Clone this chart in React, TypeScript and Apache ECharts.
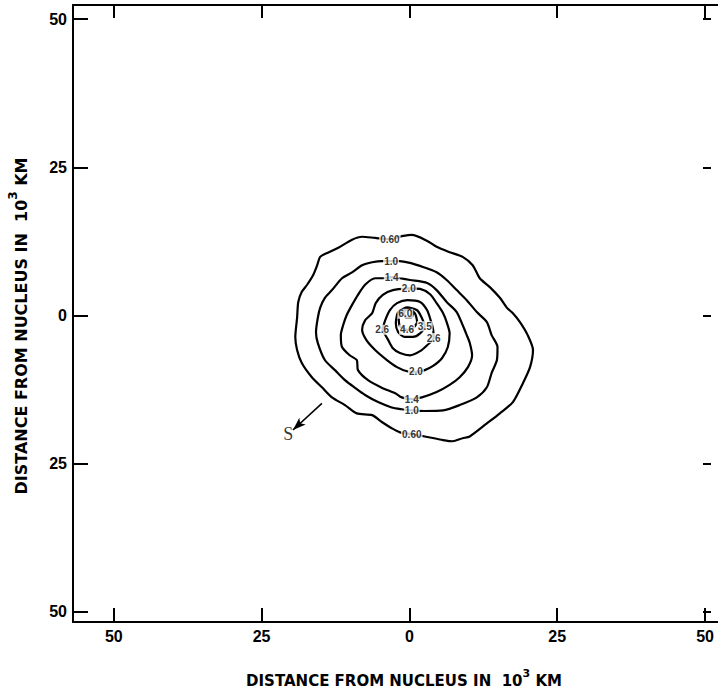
import React, { useEffect, useRef } from "react";
import * as echarts from "echarts";

// Tick positions (10^3 km from the nucleus); labels show absolute distance.
const xTicks = [-50, -25, 0, 25, 50];
const yTicks = [-50, -25, 0, 25, 50];

// Isophote levels and their printed labels.
const contourLevels = [0.6, 1.0, 1.4, 2.0, 2.6, 3.5, 4.6, 6.0];
const levelLabels = ["0.60", "1.0", "1.4", "2.0", "2.6", "3.5", "4.6", "6.0"];

// Traced isophotes, [x, y] in 10^3 km.
const c060 = [
  [-1.3, 13.4], [0.4, 13.6], [3.0, 12.6], [4.6, 11.6], [6.8, 10.7], [9.0, 9.9], [10.7, 8.5],
  [11.9, 6.3], [13.6, 4.8], [15.3, 3.0], [16.5, 1.3], [17.5, 0.4], [18.7, -1.1], [20.0, -3.3],
  [20.9, -5.8], [20.4, -8.7], [19.2, -11.4], [17.5, -14.6], [15.3, -16.5], [13.1, -18.2],
  [10.2, -20.4], [9.0, -20.7], [7.3, -21.2], [5.7, -21.0], [2.6, -20.4], [0.4, -20.0],
  [-1.6, -19.7], [-3.0, -19.0], [-4.6, -18.0], [-6.3, -16.8], [-8.9, -16.5], [-10.9, -15.1],
  [-13.1, -13.8], [-14.8, -12.1], [-16.5, -10.4], [-18.2, -8.0], [-19.0, -5.8], [-19.3, -3.6],
  [-19.0, -0.4], [-18.8, 2.3], [-18.2, 4.0], [-17.3, 5.2], [-16.3, 6.8], [-15.6, 8.5],
  [-15.1, 9.9], [-13.8, 10.6], [-12.1, 11.4], [-9.7, 12.8], [-8.0, 13.3], [-5.8, 13.1], [-3.3, 12.9],
];
const c100 = [
  [-1.6, 9.2], [0.1, 8.9], [2.3, 8.2], [4.6, 7.3], [6.3, 6.0], [8.0, 4.3], [9.7, 2.6], [11.4, 0.6],
  [13.1, -1.1], [13.9, -3.3], [14.9, -5.3], [14.8, -7.5], [13.9, -9.7], [13.1, -12.1], [11.4, -13.8],
  [8.5, -15.1], [5.7, -16.0], [2.6, -16.1], [0.4, -16.0], [-1.3, -15.8], [-3.0, -15.5], [-5.3, -14.6],
  [-7.5, -13.4], [-9.2, -12.2], [-10.9, -10.9], [-12.6, -9.2], [-14.3, -7.5], [-15.5, -4.6],
  [-15.8, -2.8], [-15.5, -0.4], [-15.1, 1.3], [-14.3, 3.0], [-13.1, 4.3], [-11.4, 6.3], [-9.7, 7.3],
  [-8.0, 8.5], [-6.3, 9.0], [-4.6, 9.2], [-3.1, 9.2],
];
const c140 = [
  [-1.6, 6.3], [0.1, 6.0], [3.0, 5.5], [4.6, 4.3], [6.3, 2.3], [8.0, 0.6], [9.0, -1.6], [9.7, -3.3],
  [10.2, -4.6], [10.6, -6.7], [9.9, -8.7], [8.5, -10.4], [6.8, -11.7], [4.6, -12.9], [2.1, -13.8],
  [0.4, -14.1], [-1.3, -13.8], [-2.4, -13.1], [-4.6, -12.2], [-7.0, -10.9], [-8.7, -9.2], [-8.9, -7.5],
  [-10.1, -6.7], [-11.4, -5.3], [-11.6, -3.3], [-11.2, -1.6], [-10.6, 0.1], [-9.7, 1.8], [-8.7, 3.5],
  [-7.5, 5.2], [-5.8, 6.3], [-4.5, 6.3], [-3.0, 6.5],
];
const c200 = [
  [-0.1, 4.6], [1.8, 4.5], [3.5, 3.6], [4.6, 2.1], [5.7, 0.4], [6.3, -1.1], [6.8, -3.0], [6.5, -5.3],
  [5.5, -7.2], [4.0, -8.5], [2.6, -9.2], [1.1, -9.5], [-0.4, -9.4], [-2.1, -8.7], [-3.8, -7.5],
  [-5.8, -5.8], [-7.3, -4.1], [-8.0, -2.4], [-7.5, -0.8], [-6.3, 0.4], [-5.7, 2.1], [-4.5, 3.5],
  [-2.8, 4.3],
];
const c260 = [
  [-4.6, -2.4], [-4.1, -0.8], [-3.3, 0.9], [-2.1, 2.1], [-0.3, 2.6], [1.8, 2.3], [3.0, 0.9],
  [3.6, -0.8], [4.0, -2.3], [4.1, -3.8], [3.0, -5.0], [1.8, -6.0], [0.1, -6.7], [-1.6, -6.3],
  [-2.8, -5.5], [-3.6, -4.1],
];
const c350 = [
  [-1.9, 0.6], [-0.4, 1.4], [1.3, 0.9], [2.1, -0.4], [2.6, -1.8], [1.8, -3.0], [0.6, -3.6],
  [-0.8, -3.6], [-1.9, -2.8], [-2.3, -1.3], [-2.1, 0.1],
];
const c460 = [
  [-1.3, 0.6], [-0.3, 1.1], [0.9, 0.4], [1.3, -1.1], [0.6, -2.1], [-0.4, -2.4], [-1.6, -1.8], [-1.8, -0.4],
];
const c600 = [
  [-0.6, 1.1], [0.3, 1.1], [0.6, 0.4], [0.3, -0.4], [-0.6, -0.4], [-0.9, 0.4],
];
const contours = [c060, c100, c140, c200, c260, c350, c460, c600];

// Where each level is labelled: [level index, x, y].
const labelPoints = [
  [0, -3.3, 12.9], [0, 0.4, -20.0],
  [1, -3.1, 9.2], [1, 0.4, -16.0],
  [2, -3.0, 6.5], [2, 0.4, -14.1],
  [3, -0.1, 4.6], [3, 1.1, -9.5],
  [4, -4.6, -2.4], [4, 4.1, -3.8],
  [5, 2.6, -1.8],
  [6, -0.4, -2.4],
  [7, -0.7, 0.3],
];

// Direction to the Sun.
const sunArrowTail = [-14.8, -14.8];
const sunArrowTip = [-19.7, -19.3];
const sunLabel = [-20.5, -20.0];

const absLabel = (v: number) => String(Math.abs(v));

const axisTitle = "{a|DISTANCE FROM NUCLEUS IN  10}{s|3}{a| KM}";
const makeTitleRich = (size: number) => ({
  a: {
    fontFamily: "DejaVu Sans",
    fontWeight: "bold",
    fontSize: size,
    lineHeight: size + 6,
    verticalAlign: "bottom",
    fill: "#000",
  },
  s: {
    fontFamily: "DejaVu Sans",
    fontWeight: "bold",
    fontSize: size - 4,
    lineHeight: size - 2,
    verticalAlign: "top",
    fill: "#000",
  },
});

export default function App() {
  const ref = useRef<HTMLDivElement>(null);

  useEffect(() => {
    if (!ref.current) return;
    const chart = echarts.init(ref.current, undefined, { renderer: "svg" });

    const frameLine = { show: true, onZero: false, lineStyle: { color: "#000", width: 2 } };
    const tickStyle = { color: "#000", width: 2 };
    const tickFont = {
      fontFamily: "Liberation Sans",
      fontWeight: "bold" as const,
      fontSize: 16,
      color: "#000",
    };

    const contourSeries = contours.map((pts, i) => ({
      type: "line",
      name: levelLabels[i],
      data: [...pts, pts[0]],
      xAxisIndex: 0,
      yAxisIndex: 0,
      symbol: "none",
      smooth: 0.25,
      silent: true,
      lineStyle: { color: "#000", width: 2.2 },
      z: 2,
    }));

    const option = {
      animation: false,
      backgroundColor: "#fff",
      grid: { left: 73, top: 5, width: 648, height: 617, outerBoundsMode: "none" },
      xAxis: [
        {
          type: "value",
          position: "bottom",
          min: -56.9,
          max: 52.7,
          axisLine: frameLine,
          splitLine: { show: false },
          axisTick: { show: true, inside: true, length: 14, customValues: xTicks, lineStyle: tickStyle },
          axisLabel: { ...tickFont, margin: 6, customValues: xTicks, formatter: absLabel },
        },
        {
          type: "value",
          position: "top",
          min: -56.9,
          max: 52.7,
          axisLine: frameLine,
          splitLine: { show: false },
          axisTick: { show: true, inside: true, length: 13, customValues: xTicks, lineStyle: tickStyle },
          axisLabel: { show: false },
        },
      ],
      yAxis: [
        {
          type: "value",
          position: "left",
          min: -51.7,
          max: 52.4,
          axisLine: frameLine,
          splitLine: { show: false },
          axisTick: { show: true, inside: true, length: 15, customValues: yTicks, lineStyle: tickStyle },
          axisLabel: { ...tickFont, margin: 6, customValues: yTicks, formatter: absLabel },
        },
        {
          type: "value",
          position: "right",
          offset: -10,
          min: -51.7,
          max: 52.4,
          axisLine: { show: false, onZero: false },
          splitLine: { show: false },
          axisTick: { show: true, inside: true, length: 8, customValues: yTicks, lineStyle: tickStyle },
          axisLabel: { show: false },
        },
      ],
      graphic: [
        {
          type: "text",
          x: 404,
          y: 678,
          style: {
            text: axisTitle,
            rich: makeTitleRich(15),
            align: "center",
            verticalAlign: "middle",
          },
        },
        {
          type: "text",
          x: 18,
          y: 326,
          rotation: Math.PI / 2,
          style: {
            text: axisTitle,
            rich: makeTitleRich(16),
            align: "center",
            verticalAlign: "middle",
          },
        },
      ],
      series: [
        ...contourSeries,
        {
          type: "scatter",
          xAxisIndex: 0,
          yAxisIndex: 0,
          symbolSize: 1,
          itemStyle: { color: "transparent" },
          silent: true,
          z: 5,
          data: labelPoints.map(([li, x, y]) => ({
            value: [x, y],
            label: { formatter: levelLabels[li] },
          })),
          label: {
            show: true,
            position: "inside",
            fontFamily: "Liberation Sans",
            fontWeight: "bold",
            fontSize: 10,
            color: "#000",
            textBorderWidth: 0,
            backgroundColor: "#fff",
            padding: [0, 1, 0, 1],
          },
        },
        {
          type: "line",
          xAxisIndex: 0,
          yAxisIndex: 0,
          data: [],
          silent: true,
          markLine: {
            silent: true,
            symbol: ["none", "arrow"],
            symbolSize: [7, 13],
            label: { show: false },
            lineStyle: { color: "#000", width: 1.6, type: "solid" },
            data: [[{ coord: sunArrowTail }, { coord: sunArrowTip }]],
          },
        },
        {
          type: "scatter",
          xAxisIndex: 0,
          yAxisIndex: 0,
          symbolSize: 1,
          itemStyle: { color: "transparent" },
          silent: true,
          data: [{ value: sunLabel }],
          label: {
            show: true,
            position: "inside",
            formatter: "S",
            fontFamily: "Liberation Serif",
            fontSize: 18,
            color: "#000",
            textBorderWidth: 0,
          },
        },
      ],
    };

    chart.setOption(option as any);
    return () => chart.dispose();
  }, []);

  return (
    <div
      ref={ref}
      style={{ position: "fixed", left: 0, top: 0, width: 726, height: 696, overflow: "hidden" }}
    />
  );
}
